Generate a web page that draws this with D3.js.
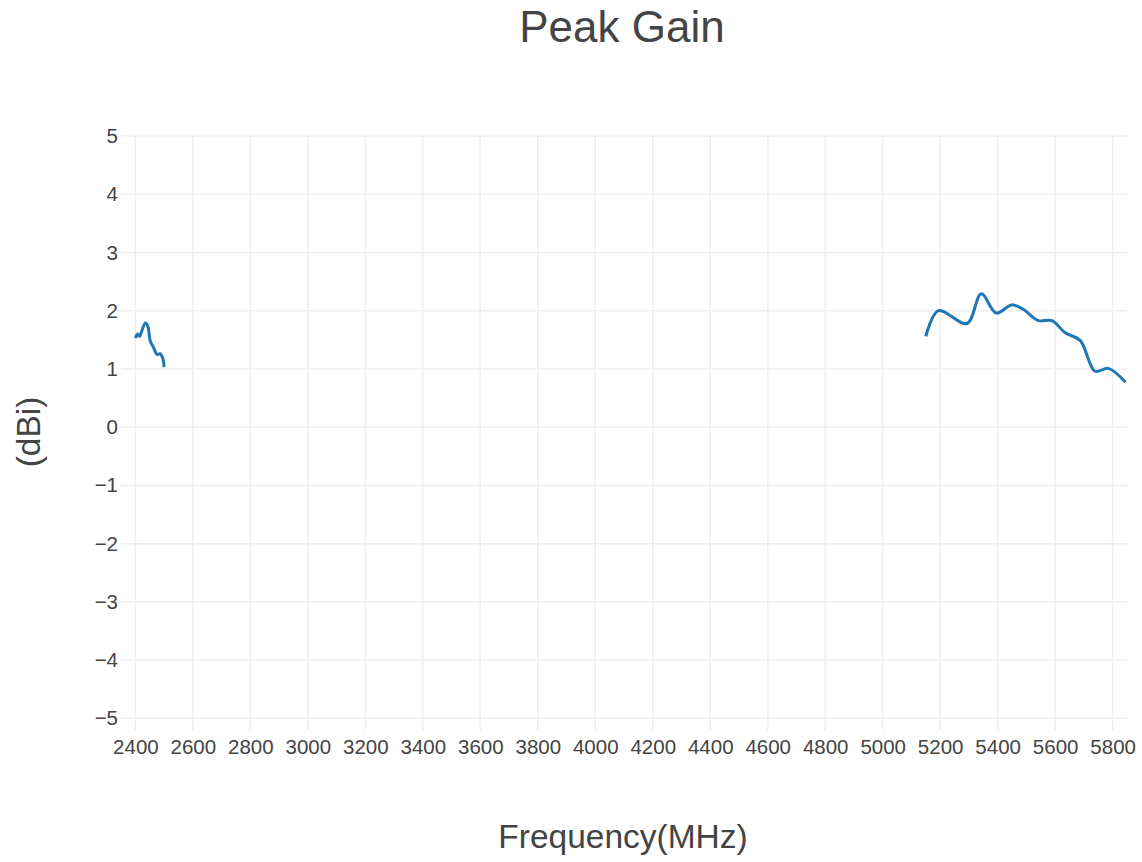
<!DOCTYPE html>
<html>
<head>
<meta charset="utf-8">
<script src="https://cdn.jsdelivr.net/npm/d3@7"></script>
<style>
  body { margin: 0; background: #fff; }
  svg text { font-family: "Liberation Sans", Arial, sans-serif; fill: #444; }
</style>
</head>
<body>
<svg></svg>
<script>
// data
var lowFreq = [2400, 2408, 2415, 2420, 2435, 2443, 2452, 2464, 2475, 2487, 2496, 2500];
var lowGain = [1.53, 1.60, 1.56, 1.62, 1.79, 1.74, 1.48, 1.36, 1.25, 1.26, 1.17, 1.03];
var highFreq = [5150, 5194, 5293, 5343, 5395, 5449, 5490, 5542, 5589, 5635, 5687, 5739, 5785, 5845];
var highGain = [1.56, 2.00, 1.78, 2.29, 1.96, 2.10, 2.02, 1.83, 1.83, 1.62, 1.49, 0.96, 1.01, 0.77];
var xTicks = [2400, 2600, 2800, 3000, 3200, 3400, 3600, 3800, 4000, 4200, 4400, 4600, 4800, 5000, 5200, 5400, 5600, 5800];
var yTicks = [5, 4, 3, 2, 1, 0, -1, -2, -3, -4, -5];

window.onload = function(){
    var W = 1142, H = 862;
    var left = 121, right = 1127, top = 136, bottom = 730;

    var svg = d3.select("svg").attr("width", W).attr("height", H);

    var x = d3.scaleLinear().domain([2350, 5850]).range([left, right]);
    var y = d3.scaleLinear().domain([-5.2, 5]).range([bottom, top]);

    // grid
    svg.append("g").selectAll("line").data(xTicks).enter().append("line")
        .attr("x1", function(d){ return x(d); })
        .attr("x2", function(d){ return x(d); })
        .attr("y1", top).attr("y2", bottom)
        .attr("stroke", "#eee").attr("stroke-width", 1.5);
    svg.append("g").selectAll("line").data(yTicks).enter().append("line")
        .attr("x1", left).attr("x2", right)
        .attr("y1", function(d){ return y(d); })
        .attr("y2", function(d){ return y(d); })
        .attr("stroke", "#eee").attr("stroke-width", 1.5);

    // axes (labels only)
    var xAxis = svg.append("g").attr("transform", "translate(0," + bottom + ")")
        .call(d3.axisBottom(x).tickValues(xTicks).tickSize(0).tickPadding(9).tickFormat(d3.format("d")));
    var yAxis = svg.append("g").attr("transform", "translate(" + left + ",0)")
        .call(d3.axisLeft(y).tickValues(yTicks).tickSize(0).tickPadding(3)
            .tickFormat(function(d){ return d < 0 ? "\u2212" + Math.abs(d) : d; }));
    [xAxis, yAxis].forEach(function(a){
        a.select(".domain").remove();
        a.selectAll("text").attr("font-size", 20.5).attr("fill", "#444")
            .style("font-family", "Liberation Sans, Arial, sans-serif");
    });

    // lines
    var line = d3.line()
        .x(function(d){ return x(d[0]); })
        .y(function(d){ return y(d[1]); })
        .curve(d3.curveCatmullRom.alpha(0.5));

    [[lowFreq, lowGain], [highFreq, highGain]].forEach(function(s){
        var pts = s[0].map(function(f, i){ return [f, s[1][i]]; });
        svg.append("path").datum(pts)
            .attr("d", line)
            .attr("fill", "none")
            .attr("stroke", "#1f77b4")
            .attr("stroke-width", 3)
            .attr("stroke-linejoin", "round");
    });

    // titles
    svg.append("text").attr("x", 622).attr("y", 42)
        .attr("text-anchor", "middle").attr("font-size", 44).text("Peak Gain");
    svg.append("text").attr("x", 623).attr("y", 848)
        .attr("text-anchor", "middle").attr("font-size", 33.5).text("Frequency(MHz)");
    svg.append("text").attr("transform", "translate(40,432) rotate(-90)")
        .attr("text-anchor", "middle").attr("font-size", 33.5).text("(dBi)");
}
</script>
</body>
</html>
